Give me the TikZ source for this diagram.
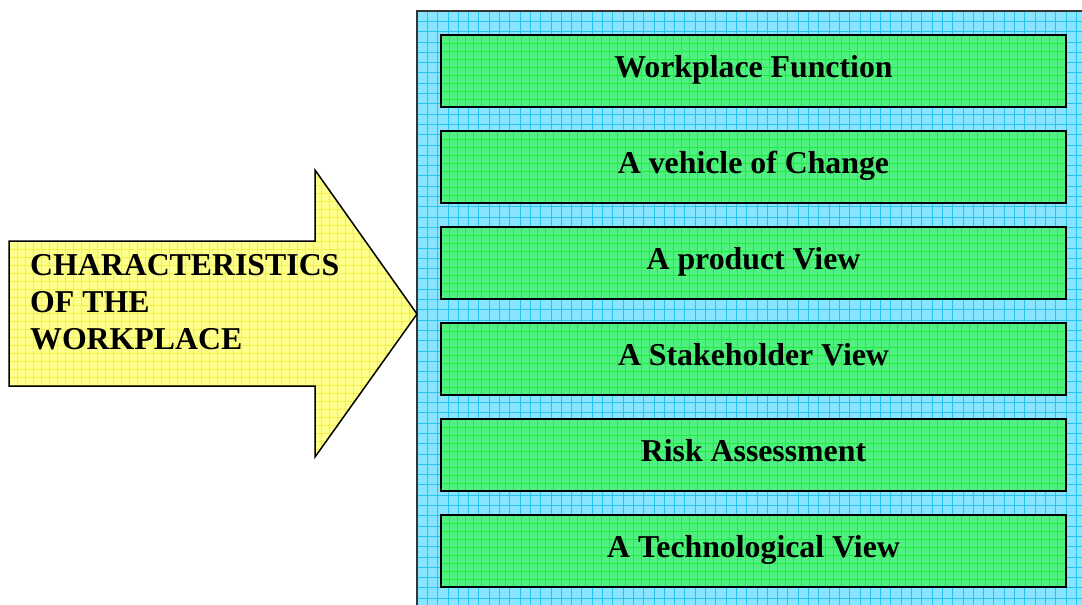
\documentclass[tikz,border=0pt]{standalone}
\usepackage{fontspec}
\setmainfont{Liberation Serif}
\definecolor{bluefill}{RGB}{136,228,255}
\definecolor{blueline}{RGB}{40,196,240}
\definecolor{greenfill}{RGB}{80,240,130}
\definecolor{greenline}{RGB}{30,240,50}
\definecolor{yellowfill}{RGB}{255,255,140}
\definecolor{yellowline}{RGB}{240,240,70}
\tikzset{
  itembox/.style={draw=black, line width=2pt, minimum width=625pt, minimum height=72pt, inner sep=0pt},
  itemtext/.style={anchor=base, inner sep=0pt, font=\bfseries\fontsize{31.8}{37}\selectfont},
  headtext/.style={align=left, anchor=north west, inner sep=0pt,
    font=\bfseries\fontsize{31.8}{37}\selectfont}
}
\begin{document}
\begin{tikzpicture}[x=1pt,y=-1pt]
\useasboundingbox (0,0) rectangle (1082,605);
% blue panel
\begin{scope}
  \clip (417,11) rectangle (1090,615);
  \fill[bluefill] (417,11) rectangle (1090,615);
  \foreach \i in {0,...,65}{
    \draw[blueline, line width=0.7pt] (417+10.3*\i,11) -- (417+10.3*\i,615);
  }
  \foreach \j in {0,...,59}{
    \draw[blueline, line width=0.7pt] (417,11+10.3*\j) -- (1090,11+10.3*\j);
  }
\end{scope}
\draw[black!80, line width=2pt] (1090,11) -- (417,11) -- (417,615);
% arrow
\coordinate (tip) at (417,314);
\path[fill=yellowfill] (9,241) -- (315,241) -- (315,170) -- (tip) -- (315,457) -- (315,386) -- (9,386) -- cycle;
\begin{scope}
  \clip (9,241) -- (315,241) -- (315,170) -- (tip) -- (315,457) -- (315,386) -- (9,386) -- cycle;
  \foreach \i in {0,...,52}{
    \draw[yellowline, line width=0.5pt] (9+8*\i,165) -- (9+8*\i,460);
  }
  \foreach \j in {0,...,37}{
    \draw[yellowline, line width=0.5pt] (9,169+8*\j) -- (420,169+8*\j);
  }
\end{scope}
\draw[black, line width=1.5pt, line join=miter] (9,241) -- (315,241) -- (315,170) -- (tip) -- (315,457) -- (315,386) -- (9,386) -- cycle;
\node[headtext] (head) at (30,254) {CHARACTERISTICS\\OF THE\\WORKPLACE};
% green boxes
\foreach \name/\y/\txt in {b1/71/Workplace Function, b2/167/A vehicle of Change, b3/263/A product View, b4/359/A Stakeholder View, b5/455/Risk Assessment, b6/551/A Technological View}{
  \begin{scope}
    \clip (441,\y-36) rectangle (1066,\y+36);
    \fill[greenfill] (441,\y-36) rectangle (1066,\y+36);
    \foreach \i in {0,...,79}{
      \draw[greenline, line width=0.5pt] (441+8*\i,\y-40) -- (441+8*\i,\y+40);
    }
    \foreach \j in {0,...,9}{
      \draw[greenline, line width=0.5pt] (441,\y-36+8*\j) -- (1070,\y-36+8*\j);
    }
  \end{scope}
  \node[itembox] (\name) at (753.5,\y) {};
  \node[itemtext] (\name t) at (753.5,\y+6) {\txt};
}
\end{tikzpicture}
\end{document}
